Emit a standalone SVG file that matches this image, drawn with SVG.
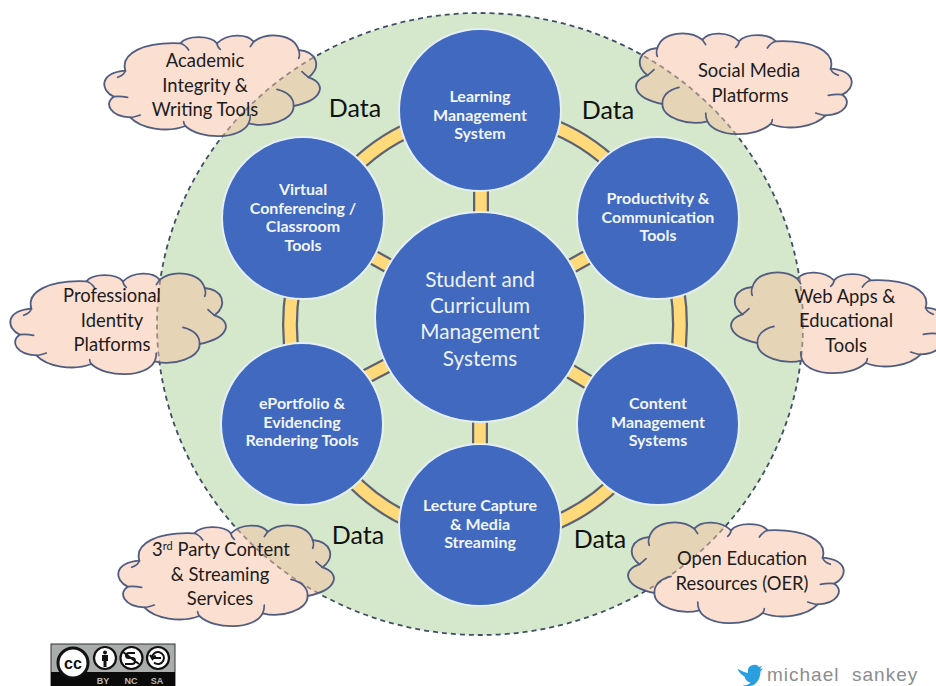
<svg xmlns="http://www.w3.org/2000/svg" width="936" height="686" viewBox="0 0 936 686">
<style>
.cl{fill:#F7BFA1;fill-opacity:.5;stroke:#505c80;stroke-width:5.5;stroke-linecap:round}
.in{fill:none;stroke:#505c80;stroke-width:5;stroke-linecap:round}
.t{font-family:Lato,"Liberation Sans",sans-serif;font-size:18.4px;fill:#1c1c1c;text-anchor:middle}
.s{font-family:Lato,"Liberation Sans",sans-serif;font-size:16px;font-weight:700;fill:#f2f5fb;text-anchor:middle}
.c{font-family:Lato,"Liberation Sans",sans-serif;font-size:20.7px;fill:#eef2fa;text-anchor:middle}
.d{font-family:Lato,"Liberation Sans",sans-serif;font-size:25px;fill:#111;text-anchor:middle}
.b{fill:#4069bf;stroke:#e4eff8;stroke-width:2}
.e{fill:none;stroke:#5d6272;stroke-width:16}
.y{fill:none;stroke:#ffd97a;stroke-width:11.500}
.cc{font-family:"Liberation Sans",sans-serif;font-weight:700;font-size:9px;fill:#bbb;text-anchor:middle}
.i{fill:#fff;stroke:#111;stroke-width:2.2}
</style>
<defs>
<g id="cloud">
<path class="cl" d="M375 212C360 160 430 125 540 130C560 105 630 105 650 130C680 100 740 100 760 125C800 95 880 100 895 150C950 155 965 200 925 232C980 250 970 300 880 318C880 360 800 385 745 370C720 420 600 420 555 378C500 400 420 385 390 352C330 350 310 310 340 290C300 270 295 220 375 212Z"/>
<path class="in" d="M375 212Q372 225 352 232M340 290Q360 288 382 292M540 130Q555 135 565 150M650 130Q650 140 660 148M760 125Q755 132 750 140M895 150Q900 165 895 175M925 232Q915 225 905 215M880 318Q880 280 830 268M745 370Q750 360 750 345M555 378Q550 370 550 365M390 352Q400 352 420 345"/>
</g>
</defs>
<ellipse id="field" cx="480" cy="324" rx="323" ry="311" fill="#d5e8cc" stroke="#3f4f66" stroke-width="1.800" stroke-dasharray="5 4"/>
<g id="connectors">
<ellipse class="e" cx="485" cy="325" rx="195" ry="212"/>
<path class="e" d="M481 317V110M480 317V525M480 317L658 218M480 317L658 424M480 317L303 218M480 317L302 410"/>
<ellipse class="y" cx="485" cy="325" rx="195" ry="212"/>
<path class="y" d="M481 317V110M480 317V525M480 317L658 218M480 317L658 424M480 317L303 218M480 317L302 410"/>
</g>
<g id="hub"><circle class="b" cx="480" cy="317" r="105"/>
<text class="c" x="480" y="287">Student and</text><text class="c" x="480" y="313">Curriculum</text><text class="c" x="480" y="339">Management</text><text class="c" x="480" y="366">Systems</text></g>
<g id="lms"><circle class="b" cx="480" cy="110" r="81"/>
<text class="s" x="480" y="102">Learning</text><text class="s" x="480" y="121">Management</text><text class="s" x="480" y="139">System</text></g>
<g id="productivity"><circle class="b" cx="658" cy="218" r="81"/>
<text class="s" x="658" y="204">Productivity &amp;</text><text class="s" x="658" y="223">Communication</text><text class="s" x="658" y="241">Tools</text></g>
<g id="content"><circle class="b" cx="658" cy="424" r="81"/>
<text class="s" x="658" y="409">Content</text><text class="s" x="658" y="428">Management</text><text class="s" x="658" y="446">Systems</text></g>
<g id="lecture"><circle class="b" cx="480" cy="525" r="81"/>
<text class="s" x="480" y="511">Lecture Capture</text><text class="s" x="480" y="530">&amp; Media</text><text class="s" x="480" y="548">Streaming</text></g>
<g id="eportfolio"><circle class="b" cx="302" cy="424" r="81"/>
<text class="s" x="302" y="409">ePortfolio &amp;</text><text class="s" x="302" y="428">Evidencing</text><text class="s" x="302" y="446">Rendering Tools</text></g>
<g id="virtual"><circle class="b" cx="303" cy="218" r="81"/>
<text class="s" x="303" y="195">Virtual</text><text class="s" x="303" y="214">Conferencing /</text><text class="s" x="303" y="232">Classroom</text><text class="s" x="303" y="251">Tools</text></g>
<g id="data-labels"><text class="d" x="355" y="117">Data</text><text class="d" x="608" y="119">Data</text><text class="d" x="358" y="544">Data</text><text class="d" x="600" y="548">Data</text></g>
<g id="cloud-academic"><use href="#cloud" transform="translate(103 35) scale(.3333) translate(-308 -105)"/>
<text class="t" x="205" y="67">Academic</text><text class="t" x="205" y="92">Integrity &amp;</text><text class="t" x="205" y="116">Writing Tools</text></g>
<g id="cloud-social"><use href="#cloud" transform="translate(853 33) scale(-.3333 .3333) translate(-308 -105)"/>
<text class="t" x="749" y="77">Social Media</text><text class="t" x="750" y="102">Platforms</text></g>
<g id="cloud-web"><use href="#cloud" transform="translate(948 272) scale(-.3333 .3333) translate(-308 -105)"/>
<text class="t" x="845" y="303">Web Apps &amp;</text><text class="t" x="846" y="327">Educational</text><text class="t" x="846" y="352">Tools</text></g>
<g id="cloud-professional"><use href="#cloud" transform="translate(9 273) scale(.3333) translate(-308 -105)"/>
<text class="t" x="112" y="302">Professional</text><text class="t" x="112" y="327">Identity</text><text class="t" x="112" y="351">Platforms</text></g>
<g id="cloud-3rd"><use href="#cloud" transform="translate(117 525) scale(.3333) translate(-308 -105)"/>
<text class="t" x="221" y="556">3<tspan font-size="11" dy="-6">rd</tspan><tspan dy="6"> Party Content</tspan></text><text class="t" x="220" y="581">&amp; Streaming</text><text class="t" x="220" y="605">Services</text></g>
<g id="cloud-oer"><use href="#cloud" transform="translate(845 522) scale(-.3333 .3333) translate(-308 -105)"/>
<text class="t" x="742" y="565">Open Education</text><text class="t" x="742" y="590">Resources (OER)</text></g>
<g id="cc-badge">
<rect x="51" y="644" width="124" height="42" fill="#a9adab" stroke="#333"/>
<rect x="51" y="672" width="124" height="14" fill="#0a0a0a"/>
<circle cx="73" cy="663" r="15" fill="#fff" stroke="#111" stroke-width="3"/>
<text x="73" y="669" font-family="'Liberation Sans',sans-serif" font-weight="700" font-size="16" fill="#111" text-anchor="middle">cc</text>
<circle class="i" cx="105" cy="658" r="11"/><circle cx="105" cy="652.500" r="2" fill="#111"/><path d="M102 655h6v6h-1.500v6h-3v-6H102z" fill="#111"/>
<circle class="i" cx="131.500" cy="658" r="11"/><path d="M123 652l16 12M135 653h-6q-3 0-3 2.500t3 2.500h3q3 0 3 3t-3 3h-7" fill="none" stroke="#111" stroke-width="2"/>
<circle class="i" cx="158" cy="658" r="11"/><path d="M152 658a6 6 0 1 1 2 4.500M150 655l2.500 4 3-3.500M154 658h7" fill="none" stroke="#111" stroke-width="2"/>
<text class="cc" x="103" y="684">BY</text><text class="cc" x="131" y="684">NC</text><text class="cc" x="157" y="684">SA</text>
</g>
<g id="credit">
<path d="M738 669q5 3 10 4q-1-7 5-8q4-1 6 2l3-1l-2 3l3-.5l-2.500 3q0 8-6 13q-6 3-12 1q6 0 8-3q-5-1-6-6q-5-3-7-7.500z" fill="#2a9fe0"/>
<text x="767" y="681" font-family="'Liberation Sans',sans-serif" font-size="19" letter-spacing="1" fill="#8b8d90" style="white-space:pre">michael  sankey</text>
</g>
</svg>
